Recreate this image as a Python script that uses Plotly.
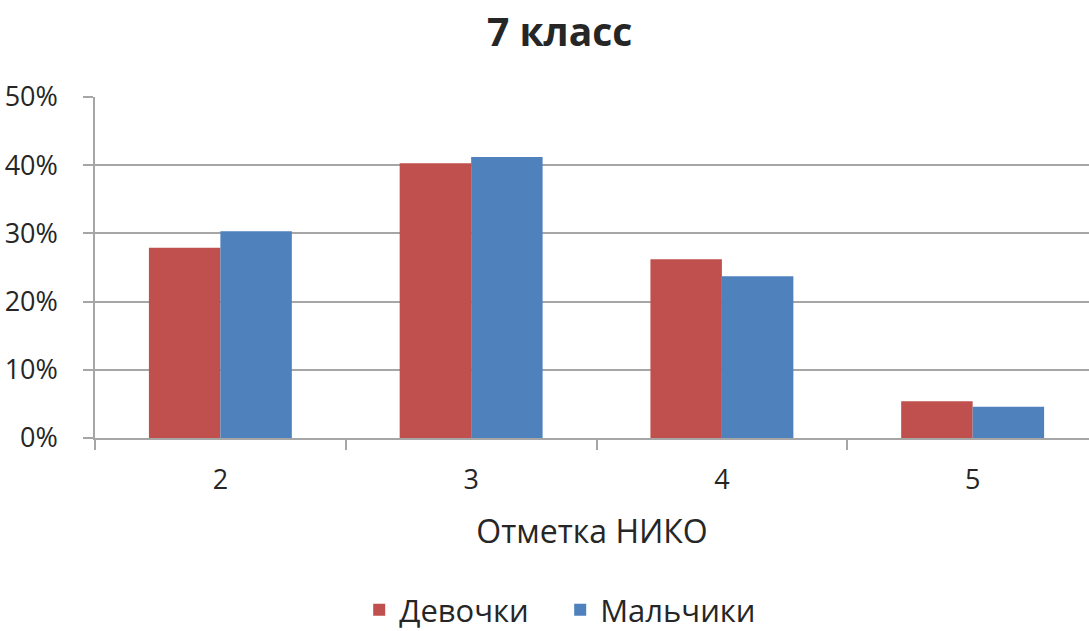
import plotly.graph_objects as go

categories = ["2", "3", "4", "5"]
girls = [0.279, 0.403, 0.262, 0.054]
boys = [0.303, 0.412, 0.237, 0.046]
series_names = ["Девочки", "Мальчики"]
y_ticks = [0, 0.1, 0.2, 0.3, 0.4, 0.5]

FONT = "Open Sans"
TXT = "#262626"

fig = go.Figure()
fig.add_trace(go.Bar(x=categories, y=girls, name=series_names[0],
                     marker=dict(color="#C0504D", line=dict(width=0))))
fig.add_trace(go.Bar(x=categories, y=boys, name=series_names[1],
                     marker=dict(color="#4F81BD", line=dict(width=0))))

fig.update_layout(
    width=1089, height=631,
    margin=dict(l=95, r=0, t=97, b=193, autoexpand=False),
    paper_bgcolor="white", plot_bgcolor="white",
    barmode="group", bargap=0.43, bargroupgap=0,
    font=dict(family=FONT, color=TXT),
    title=dict(text="<b>7 класс</b>", x=0.514, xanchor="center",
               y=0.948, yanchor="middle", font=dict(size=39, color=TXT)),
    xaxis=dict(
        type="category", range=[-0.5, 3.464],
        showline=True, linecolor="#a6a6a6", linewidth=1.5,
        ticks="outside", tickson="boundaries", ticklen=10, tickcolor="#a6a6a6", tickwidth=1.5,
        showgrid=False, tickfont=dict(size=27, color=TXT),
        ticklabelstandoff=17,
        title=dict(text="Отметка НИКО", font=dict(size=32, color=TXT), standoff=24),
    ),
    yaxis=dict(
        range=[0, 0.5], tickvals=y_ticks, tickformat=".0%",
        showline=True, linecolor="#a6a6a6", linewidth=1.5,
        ticks="outside", ticklen=10, tickcolor="#a6a6a6", tickwidth=1.5,
        showgrid=True, gridcolor="#a6a6a6", gridwidth=1.5,
        zeroline=False, tickfont=dict(size=27, color=TXT),
        ticklabelstandoff=20,
    ),
    legend=dict(orientation="h", x=0.468, xanchor="center", y=-0.505, yanchor="middle",
                font=dict(size=31, color=TXT), itemwidth=30, entrywidth=156,
                traceorder="normal"),
    showlegend=True,
)

fig.write_html("out.html", config={"displayModeBar": False},
               post_script="document.body.style.margin='0';")
